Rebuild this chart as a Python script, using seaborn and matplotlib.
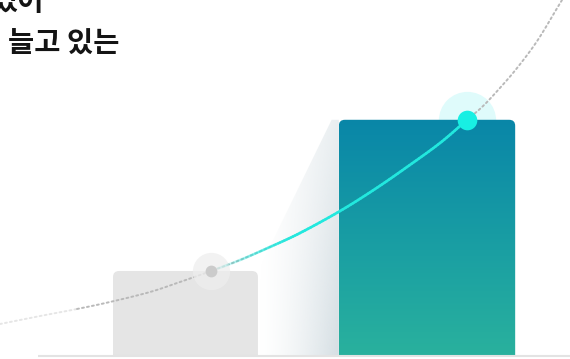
import numpy as np
import matplotlib
matplotlib.use("Agg")
import matplotlib.pyplot as plt
import seaborn as sns
from matplotlib.patches import FancyBboxPatch, Polygon
from matplotlib.colors import LinearSegmentedColormap, to_rgb
from matplotlib.collections import LineCollection

# ---------------- data ----------------
categories = ["이전", "현재"]
values = [1.0, 2.8]
bar_widths = [0.60, 0.73]

curve_x = [-0.768, -0.602, -0.449, -0.313, -0.147, -0.023, 0.106, 0.226, 0.350,
           0.474, 0.640, 0.785, 0.917, 1.054, 1.166, 1.232, 1.302, 1.373,
           1.456, 1.539, 1.559]
curve_y = [0.369, 0.464, 0.548, 0.631, 0.750, 0.869, 1.000, 1.131, 1.286,
           1.452, 1.714, 1.976, 2.238, 2.524, 2.800, 2.964, 3.179, 3.417,
           3.738, 4.131, 4.226]
point_x = [0.106, 1.166]
point_y = [1.0, 2.8]
title_lines = ["있어", "늘고 있는"]

# ---------------- style ----------------
sns.set_theme(style="white")
plt.rcParams["font.family"] = ["Noto Sans CJK KR", "DejaVu Sans"]

W, H = 570, 359
fig = plt.figure(figsize=(W / 100, H / 100), dpi=100)
ax = fig.add_axes([0, 0, 1, 1])

XLIM = (-0.768, 1.592)
YLIM = (-0.0476, 4.226)
px_x = W / (XLIM[1] - XLIM[0])
px_y = H / (YLIM[1] - YLIM[0])
aspect = px_x / px_y

grey_bar = "#e5e5e5"
teal_top, teal_bot = "#0986a8", "#2db59c"

# bars through seaborn
rects = []
for i in range(len(categories)):
    sns.barplot(x=[categories[i]], y=[values[i]], order=categories,
                width=bar_widths[i], color=grey_bar, saturation=1, ax=ax)
    r = ax.patches[-1]
    rects.append((r.get_x(), r.get_width(), r.get_height()))
    r.remove()

rad = 6 / px_x
gx0, gw, gh = rects[0]
gpatch = FancyBboxPatch((gx0, -0.3), gw, gh + 0.3,
                        boxstyle=f"round,pad=0,rounding_size={rad}",
                        mutation_aspect=aspect, fc=grey_bar, ec="none", zorder=3)
ax.add_patch(gpatch)

tx0, tw, th = rects[1]
tpatch = FancyBboxPatch((tx0, -0.3), tw, th + 0.3,
                        boxstyle=f"round,pad=0,rounding_size={rad}",
                        mutation_aspect=aspect, fc="none", ec="none", zorder=3)
ax.add_patch(tpatch)
cmap = LinearSegmentedColormap.from_list("teal", [teal_bot, "#1a9fa3", teal_top])
grad = np.linspace(0, 1, 256).reshape(-1, 1)
im = ax.imshow(grad, extent=(tx0, tx0 + tw, -0.3, th), origin="lower",
               aspect="auto", cmap=cmap, zorder=3, interpolation="bicubic")
im.set_clip_path(tpatch)

# shadow between bars
gx1 = gx0 + gw
shadow_poly = Polygon([(gx1, gh), (tx0 - 0.03, th), (tx0, th), (tx0, 0), (gx1, 0)],
                      closed=True, fc="none", ec="none", transform=ax.transData)
ax.add_patch(shadow_poly)
sc = to_rgb("#d3dde2")
nx, ny = 200, 100
tx = np.linspace(0, 1, nx)[None, :]
ty = np.linspace(0, 1, ny)[:, None]
rgba = np.zeros((ny, nx, 4))
rgba[..., 0], rgba[..., 1], rgba[..., 2] = sc
rgba[..., 3] = (tx ** 1.5) * (0.95 - 0.45 * ty)
sim = ax.imshow(rgba, extent=(gx1, tx0, 0, th), origin="lower", aspect="auto",
                zorder=1, interpolation="bilinear")
sim.set_clip_path(shadow_poly)


# smooth rendering of the read curve (Catmull-Rom through the read points)
def smooth(xs, ys, steps=14):
    P = np.column_stack([xs, ys])
    n = len(P)
    out = []
    for i in range(n - 1):
        p0 = P[max(i - 1, 0)]
        p1, p2 = P[i], P[i + 1]
        p3 = P[min(i + 2, n - 1)]
        for s in range(steps):
            t = s / steps
            t2, t3 = t * t, t * t * t
            pt = 0.5 * ((2 * p1) + (-p0 + p2) * t +
                        (2 * p0 - 5 * p1 + 4 * p2 - p3) * t2 +
                        (-p0 + 3 * p1 - 3 * p2 + p3) * t3)
            out.append(pt)
    out.append(P[-1])
    return np.array(out)


S = smooth(curve_x, curve_y)
sx, sy = S[:, 0], S[:, 1]

dot_style = dict(color="#b9b9b9", lw=1.4, linestyle=(0, (1, 1.6)),
                 dash_capstyle="round", zorder=4)
m1 = sx <= curve_x[2]
m2 = (sx >= curve_x[2]) & (sx <= curve_x[9])
m3 = sx >= curve_x[14]
ax.plot(sx[m1], sy[m1], alpha=0.35, **dot_style)
ax.plot(sx[m2], sy[m2], **dot_style)
ax.plot(sx[m3], sy[m3], **dot_style)

# cyan solid segment fading in after the grey point
cyan = "#22e8de"
mc = (sx >= curve_x[6]) & (sx <= curve_x[14] + 1e-9)
cx, cy = sx[mc], sy[mc]
segs, cols = [], []
for k in range(len(cx) - 1):
    segs.append([(cx[k], cy[k]), (cx[k + 1], cy[k + 1])])
    xm = (cx[k] + cx[k + 1]) / 2
    a = np.clip((xm - curve_x[6]) / (curve_x[9] - curve_x[6]), 0, 1) ** 1.3
    cols.append((*to_rgb(cyan), a))
lc = LineCollection(segs, colors=cols, linewidths=1.9, capstyle="round", zorder=5)
ax.add_collection(lc)

# points and halos
ax.scatter([point_x[1]], [point_y[1]], s=1700, color="#dcfbfb", alpha=0.9,
           linewidths=0, zorder=2)
ax.scatter([point_x[0]], [point_y[0]], s=720, color="#eeeeee", alpha=0.75,
           linewidths=0, zorder=4)
ax.scatter([point_x[0]], [point_y[0]], s=72, color="#cbcbcb", linewidths=0, zorder=6)
ax.scatter([point_x[1]], [point_y[1]], s=200, color="#18efe3", linewidths=0, zorder=6)

# baseline
ax.axhspan(YLIM[0] - 1, -0.024, color="white", zorder=7, lw=0)
ax.plot([-0.611, XLIM[1]], [-0.012, -0.012], color="#e3e3e3", lw=1.5, zorder=8,
        solid_capstyle="butt")

ax.set_xlim(*XLIM)
ax.set_ylim(*YLIM)
ax.axis("off")

# title text (partly outside the frame, as in the reference)
fig.text(-9 / W, 1 - 10 / H, title_lines[0], fontsize=20.5, fontweight="bold",
         color="#141414", ha="left", va="baseline")
fig.text(8 / W, 1 - 53 / H, title_lines[1], fontsize=20.5, fontweight="bold",
         color="#141414", ha="left", va="baseline")

fig.savefig("out.png", dpi=100)
